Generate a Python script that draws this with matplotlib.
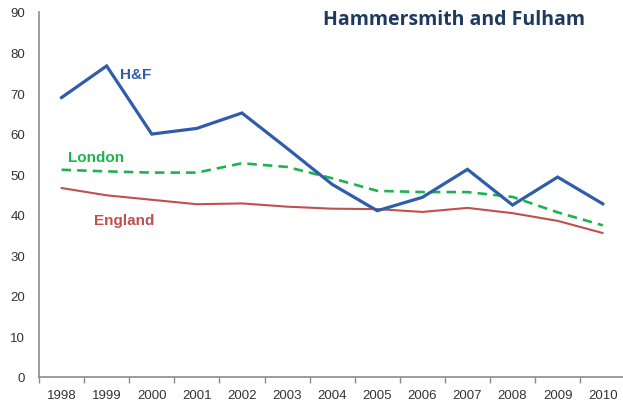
import matplotlib
matplotlib.use("Agg")
import matplotlib.pyplot as plt

plt.rcParams["font.family"] = ["Liberation Sans", "DejaVu Sans"]

years = ["1998", "1999", "2000", "2001", "2002", "2003", "2004",
         "2005", "2006", "2007", "2008", "2009", "2010"]
hf = [68.9, 76.7, 59.9, 61.3, 65.1, 56.4, 47.5, 41.0, 44.3, 51.2, 42.4, 49.3, 42.7]
london = [51.1, 50.7, 50.4, 50.4, 52.7, 51.8, 49.0, 45.9, 45.6, 45.6, 44.4, 40.6, 37.4]
england = [46.6, 44.8, 43.7, 42.6, 42.8, 42.0, 41.5, 41.4, 40.7, 41.7, 40.4, 38.5, 35.5]
yticks = [0, 10, 20, 30, 40, 50, 60, 70, 80, 90]

c_hf = "#2F5DAA"
c_lon = "#1DB34F"
c_eng = "#C0504D"

fig = plt.figure(figsize=(6.23, 4.06), dpi=100)
ax = fig.add_axes([39 / 623, 28 / 406, 586.3 / 623, 365 / 406])

x = list(range(len(years)))
ax.plot(x, england, color=c_eng, lw=1.5, solid_capstyle="round")
ax.plot(x, london, color=c_lon, lw=1.9, dashes=(3.6, 2.3))
ax.plot(x, hf, color=c_hf, lw=2.3, solid_joinstyle="miter")

ax.set_xlim(-0.5, len(years) - 0.5)
ax.set_ylim(0, 90)
ax.set_yticks(yticks)
ax.set_yticklabels([str(v) for v in yticks])
ax.set_xticks(x)
ax.set_xticklabels(years)
ax.set_xticks([i - 0.5 for i in range(len(years) + 1)], minor=True)

for s in ["top", "right"]:
    ax.spines[s].set_visible(False)
for s in ["left", "bottom"]:
    ax.spines[s].set_color("#8C8C8C")
    ax.spines[s].set_linewidth(1.2)

ax.tick_params(axis="y", length=0, pad=10, labelsize=9.5, labelcolor="#333333")
ax.tick_params(axis="x", which="major", length=0, pad=9, labelsize=9.5, labelcolor="#333333")
ax.tick_params(axis="x", which="minor", length=4, width=1, color="#8C8C8C", direction="out")

fig.text(454 / 623, 1 - 20 / 406, "Hammersmith and Fulham", ha="center", va="center",
         fontsize=14, fontweight="bold", color="#1F3A5F", family="Open Sans")

ax.text(1.3, 74.6, "H&F", color=c_hf, fontsize=11, fontweight="bold", ha="left", va="center")
ax.text(0.15, 54.3, "London", color=c_lon, fontsize=11, fontweight="bold", ha="left", va="center")
ax.text(0.72, 38.8, "England", color=c_eng, fontsize=11, fontweight="bold", ha="left", va="center")

fig.savefig("out.png", dpi=100)
